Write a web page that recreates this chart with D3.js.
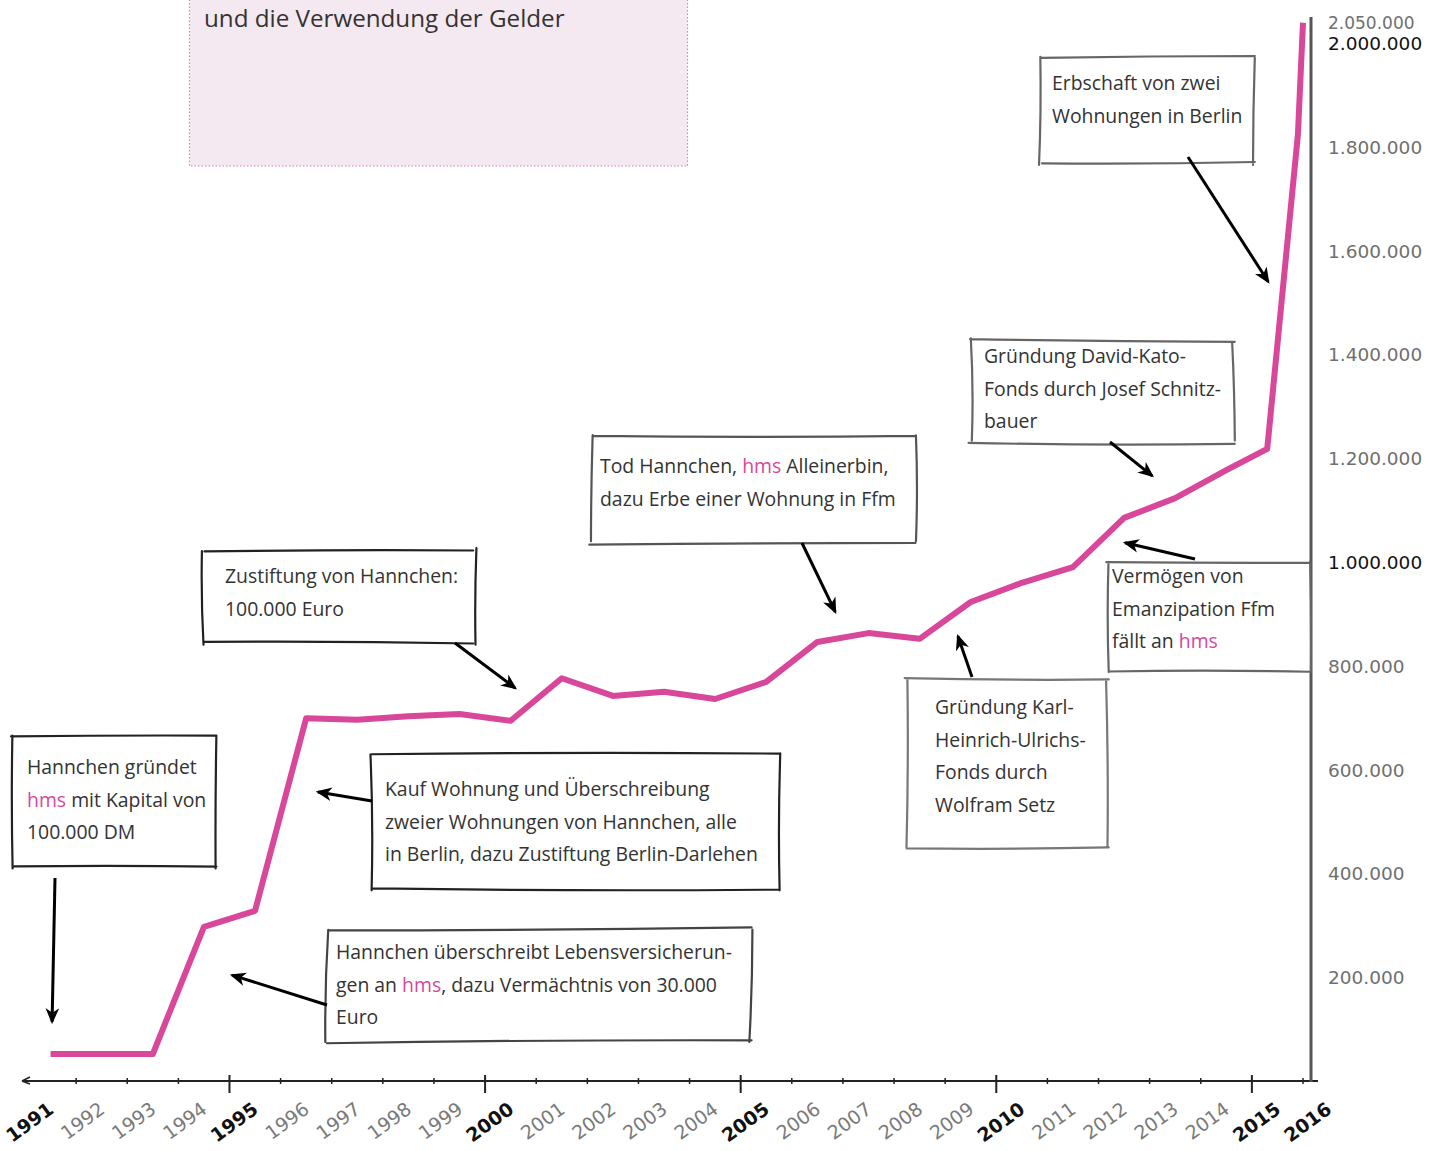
<!DOCTYPE HTML>
<html lang="de">
<head>
<meta charset="utf-8" />
<title>Vermögensentwicklung hms</title>
<style>
  body { margin: 0; background: #fff; }
  svg { display: block; }
</style>
</head>
<body>
<div id="chart"></div>
<script src="https://d3js.org/d3.v7.min.js"></script>
<script>
// Jahresbeschriftungen der x-Achse
const jahre = d3.range(1991, 2017);
const hauptJahre = [1991, 1995, 2000, 2005, 2010, 2015, 2016];

// Stützstellen der Vermögenskurve (Position auf der Zeitachse, Wert in Euro)
const zeitpunkte = [1991.5, 1992.5, 1993.5, 1994.5, 1995.5, 1996.5, 1997.5, 1998.5, 1999.5,
  2000.5, 2001.5, 2002.5, 2003.5, 2004.5, 2005.5, 2006.5, 2007.5, 2008.5, 2009.5,
  2010.5, 2011.5, 2012.5, 2013.5, 2014.5, 2015.3, 2015.9, 2016];
const vermoegen = [52000, 52000, 52000, 297000, 328000, 699000, 696000, 703000, 707000,
  694000, 776000, 742000, 750000, 736000, 769000, 846000, 863000, 852000, 923000,
  960000, 990000, 1085000, 1123000, 1177000, 1218000, 1823000, 2039000];

// Beschriftungen der y-Achse
const yTicks = [200000, 400000, 600000, 800000, 1000000, 1200000, 1400000, 1600000, 1800000, 2000000, 2050000];
const yDunkel = [1000000, 2000000];

// Anmerkungen: Text (*...* = pink), Kasten, Pfeilspitze (Zeit, Wert)
const anmerkungen = [
  { zeilen: ['Hannchen gründet', '*hms* mit Kapital von', '100.000 DM'],
    box: [13, 736, 203, 131], tx: 27, ty: 774, farbe: '#222', pfeil: [55, 878], ziel: [1991.53, 114000] },
  { zeilen: ['Zustiftung von Hannchen:', '100.000 Euro'],
    box: [203, 550, 272, 93], tx: 225, ty: 583, farbe: '#222', pfeil: [455, 643], ziel: [2000.59, 757000] },
  { zeilen: ['Kauf Wohnung und Überschreibung', 'zweier Wohnungen von Hannchen, alle', 'in Berlin, dazu Zustiftung Berlin-Darlehen'],
    box: [372, 754, 408, 136], tx: 385, ty: 796, farbe: '#222', pfeil: [372, 801], ziel: [1996.73, 557000] },
  { zeilen: ['Hannchen überschreibt Lebensversicherun-', 'gen an *hms*, dazu Vermächtnis von 30.000', 'Euro'],
    box: [327, 929, 424, 113], tx: 336, ty: 959, farbe: '#444', pfeil: [327, 1005], ziel: [1995.05, 204000] },
  { zeilen: ['Tod Hannchen, *hms* Alleinerbin,', 'dazu Erbe einer Wohnung in Ffm'],
    box: [591, 436, 325, 107], tx: 600, ty: 473, farbe: '#555', pfeil: [802, 543], ziel: [2006.85, 904000] },
  { zeilen: ['Gründung David-Kato-', 'Fonds durch Josef Schnitz-', 'bauer'],
    box: [970, 340, 263, 102], tx: 984, ty: 363, farbe: '#666', pfeil: [1110, 442], ziel: [2013.05, 1166000] },
  { zeilen: ['Erbschaft von zwei', 'Wohnungen in Berlin'],
    box: [1041, 58, 214, 106], tx: 1052, ty: 90, farbe: '#666', pfeil: [1188, 157], ziel: [2015.32, 1540000] },
  { zeilen: ['Vermögen von', 'Emanzipation Ffm', 'fällt an *hms*'],
    box: [1108, 562, 202, 109], tx: 1112, ty: 583, farbe: '#666', pfeil: [1195, 559], ziel: [2012.52, 1037000] },
  { zeilen: ['Gründung Karl-', 'Heinrich-Ulrichs-', 'Fonds durch', 'Wolfram Setz'],
    box: [906, 679, 201, 168], tx: 935, ty: 714, farbe: '#777', pfeil: [972, 677], ziel: [2009.25, 857000] }
];

const width = 1448;
const height = 1151;
const pink = '#d8479a';

const svg = d3.select('#chart')
  .append('svg')
  .attr('width', width)
  .attr('height', height);

const x = d3.scaleLinear().domain([1991, 2016]).range([25, 1303]);
const y = d3.scaleLinear().domain([0, 2000000]).range([1081, 43]);

const de = d3.formatLocale({ decimal: ',', thousands: '.', grouping: [3], currency: ['', ' €'] });
const fmt = de.format(',d');

// kleine, feste Wackler für den Handzeichnungs-Look
function wackel(i) {
  const s = Math.sin(i * 12.9898 + 78.233) * 43758.5453;
  return (s - Math.floor(s)) * 2 - 1;
}

// Kasten oben (Titelbereich)
svg.append('rect')
  .attr('x', 189.5).attr('y', -10)
  .attr('width', 498).attr('height', 176)
  .attr('fill', '#f5e9f1')
  .attr('stroke', '#e27bb5')
  .attr('stroke-width', 1.2)
  .attr('stroke-dasharray', '1.5,2');

svg.append('text')
  .attr('x', 204).attr('y', 27)
  .attr('font-family', '"Open Sans", "Noto Sans", sans-serif')
  .attr('font-size', 24.2)
  .attr('fill', '#333')
  .text('und die Verwendung der Gelder');

// Pfeilspitze
svg.append('defs').append('marker')
  .attr('id', 'spitze')
  .attr('viewBox', '0 0 14 12')
  .attr('refX', 12).attr('refY', 6)
  .attr('markerWidth', 16).attr('markerHeight', 14)
  .attr('markerUnits', 'userSpaceOnUse')
  .attr('orient', 'auto')
  .append('path')
  .attr('d', 'M0,0 L14,6 L0,12 L4,6 Z')
  .attr('fill', '#000');

// x-Achse
const xAchse = svg.append('g');
xAchse.append('line')
  .attr('x1', 22).attr('x2', 1318)
  .attr('y1', 1081).attr('y2', 1081)
  .attr('stroke', '#222').attr('stroke-width', 2);
xAchse.append('path')
  .attr('d', 'M22,1081 L30,1077 M22,1081 L30,1084')
  .attr('stroke', '#222').attr('stroke-width', 1.5).attr('fill', 'none');

xAchse.selectAll('line.tick')
  .data(jahre.slice(1))
  .enter()
  .append('line')
  .attr('class', 'tick')
  .attr('x1', d => x(d)).attr('x2', d => x(d))
  .attr('y1', d => hauptJahre.includes(d) && d < 2016 ? 1075 : 1078)
  .attr('y2', d => hauptJahre.includes(d) && d < 2016 ? 1093 : 1084)
  .attr('stroke', '#222')
  .attr('stroke-width', d => hauptJahre.includes(d) && d < 2016 ? 2 : 1.5);

xAchse.selectAll('text')
  .data(jahre)
  .enter()
  .append('text')
  .attr('transform', d => `translate(${x(d) + 30}, ${1112}) rotate(-36)`)
  .attr('text-anchor', 'end')
  .attr('font-family', '"DejaVu Sans", sans-serif')
  .attr('font-size', 19)
  .attr('font-weight', d => hauptJahre.includes(d) ? 'bold' : 'normal')
  .attr('fill', d => hauptJahre.includes(d) ? '#111' : '#7a7a7a')
  .text(d => d);

// y-Achse
svg.append('line')
  .attr('x1', 1311).attr('x2', 1311)
  .attr('y1', 17).attr('y2', 1082)
  .attr('stroke', '#555').attr('stroke-width', 3);

svg.append('g')
  .selectAll('text')
  .data(yTicks)
  .enter()
  .append('text')
  .attr('x', 1328)
  .attr('y', d => d === 2050000 ? y(d) + 12 : y(d) + 7)
  .attr('font-family', '"DejaVu Sans", sans-serif')
  .attr('font-size', d => d === 2050000 ? 17 : 18.5)
  .attr('fill', d => yDunkel.includes(d) ? '#111' : '#6f6f6f')
  .text(d => fmt(d));

// Vermögenskurve
const linie = d3.line()
  .x((d, i) => x(zeitpunkte[i]))
  .y(d => y(d));

svg.append('path')
  .datum(vermoegen)
  .attr('d', linie)
  .attr('fill', 'none')
  .attr('stroke', pink)
  .attr('stroke-width', 6)
  .attr('stroke-linejoin', 'round');

// Kästen mit Anmerkungen
function skizzenKasten(g, b, farbe, seed) {
  const [bx, by, bw, bh] = b;
  const ecken = [[bx, by], [bx + bw, by], [bx + bw, by + bh], [bx, by + bh]];
  let d = '';
  for (let k = 0; k < 4; k++) {
    const a = ecken[k];
    const e = ecken[(k + 1) % 4];
    const j = seed * 10 + k;
    const ax = a[0] + wackel(j) * 2, ay = a[1] + wackel(j + 1) * 2;
    const ex = e[0] + wackel(j + 2) * 2, ey = e[1] + wackel(j + 3) * 2;
    const mx = (ax + ex) / 2 + wackel(j + 4) * 2.5;
    const my = (ay + ey) / 2 + wackel(j + 5) * 2.5;
    d += `M${ax},${ay} Q${mx},${my} ${ex},${ey} `;
  }
  g.append('rect')
    .attr('x', bx).attr('y', by).attr('width', bw).attr('height', bh)
    .attr('fill', '#fff');
  g.append('path')
    .attr('d', d)
    .attr('fill', 'none')
    .attr('stroke', farbe)
    .attr('stroke-width', 2.2)
    .attr('stroke-linecap', 'round');
}

const anm = svg.append('g');
anmerkungen.forEach((a, i) => {
  const g = anm.append('g');
  skizzenKasten(g, a.box, a.farbe, i + 1);
  const t = g.append('text')
    .attr('font-family', '"Open Sans", "Noto Sans", sans-serif')
    .attr('font-size', 19.4)
    .attr('fill', '#333');
  a.zeilen.forEach((z, k) => {
    const teile = z.split('*');
    teile.forEach((teil, m) => {
      if (!teil) return;
      const ts = t.append('tspan').text(teil)
        .attr('fill', m % 2 === 1 ? pink : '#333');
      if (m === 0 || (m === 1 && !teile[0])) {
        ts.attr('x', a.tx).attr('y', a.ty + k * 32.5);
      }
    });
  });
  g.append('line')
    .attr('x1', a.pfeil[0]).attr('y1', a.pfeil[1])
    .attr('x2', x(a.ziel[0])).attr('y2', y(a.ziel[1]))
    .attr('stroke', '#000')
    .attr('stroke-width', 3)
    .attr('marker-end', 'url(#spitze)');
});
</script>
</body>
</html>
